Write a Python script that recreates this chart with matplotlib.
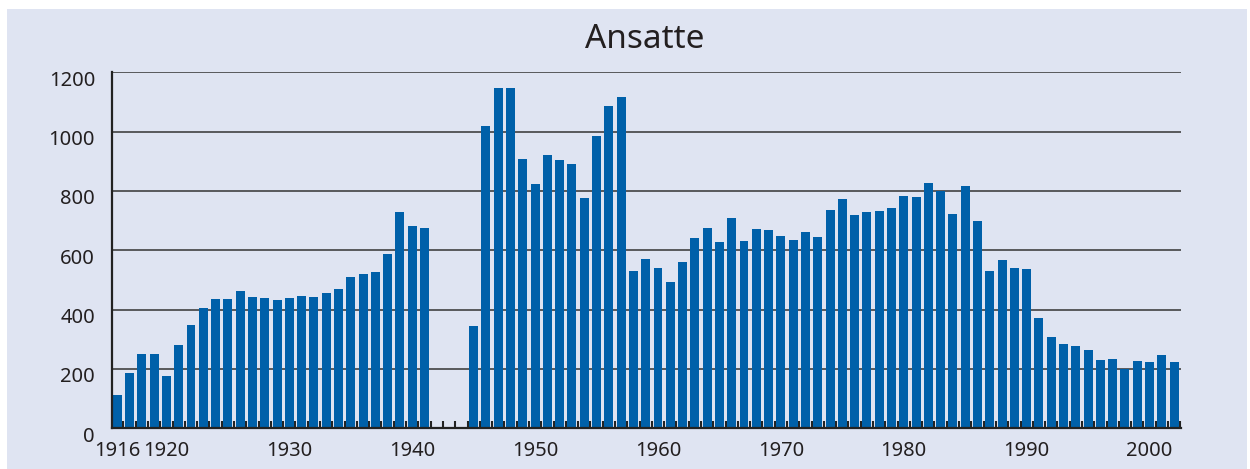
import matplotlib.pyplot as plt
import matplotlib.transforms as mtransforms
from matplotlib.patches import Rectangle
from matplotlib.ticker import FixedLocator

# data (no values 1942-1944)
years1 = list(range(1916, 1942))
vals1 = [112, 186, 250, 250, 176, 281, 348, 405, 435, 435,
         462, 442, 439, 432, 439, 446, 442, 456, 469, 510,
         520, 527, 587, 729, 682, 675]
years2 = list(range(1945, 2003))
vals2 = [345, 1019, 1147, 1147, 908, 824, 921, 904, 891, 776,
         985, 1087, 1117, 530, 571, 540, 493, 561, 642, 675,
         628, 709, 631, 672, 669, 648, 635, 662, 645, 736,
         773, 719, 729, 733, 743, 783, 780, 827, 800, 722,
         817, 699, 530, 567, 540, 537, 372, 308, 284, 278,
         264, 230, 234, 200, 227, 224, 247, 224]
year_labels = [1916, 1920, 1930, 1940, 1950, 1960, 1970, 1980, 1990, 2000]
y_ticks = [0, 200, 400, 600, 800, 1000, 1200]

panel = '#dfe4f2'
bar_col = '#0060a9'
txt = '#231f20'

plt.rcParams['font.family'] = ['Noto Sans', 'DejaVu Sans']

fig = plt.figure(figsize=(12.5, 4.69), dpi=100)
fig.patch.set_facecolor('white')
fig.patches.append(Rectangle((7 / 1250, 0), 1240 / 1250, 460 / 469,
                             transform=fig.transFigure, facecolor=panel,
                             edgecolor='none', zorder=-10))

ax = fig.add_axes([0.0894, 0.0868, 0.8554, 0.7591])
ax.set_facecolor('none')

ax.bar(years1 + years2, vals1 + vals2, width=0.73, color=bar_col, zorder=3)

ax.set_xlim(1915.55, 2002.56)
ax.set_ylim(0, 1200)

for v in y_ticks[1:]:
    ax.axhline(v, color='#333333', lw=1.1, zorder=1)

for s in ['top', 'right']:
    ax.spines[s].set_visible(False)
for s in ['left', 'bottom']:
    ax.spines[s].set_color('#222222')
    ax.spines[s].set_linewidth(1.6)
    ax.spines[s].set_zorder(4)

ax.set_yticks(y_ticks)
ax.set_yticklabels([str(v) for v in y_ticks])
ax.tick_params(axis='y', length=0, pad=12, labelsize=14.5, labelcolor=txt)
offset = mtransforms.ScaledTranslation(0, -6 / 100, fig.dpi_scale_trans)
for lab in ax.get_yticklabels():
    lab.set_transform(lab.get_transform() + offset)

ax.set_xticks(year_labels)
ax.set_xticklabels([str(y) for y in year_labels])
ax.tick_params(axis='x', which='major', length=0, pad=9, labelsize=14.5,
               labelcolor=txt)
ax.xaxis.set_minor_locator(FixedLocator([y + 0.5 for y in range(1915, 2003)]))
ax.tick_params(axis='x', which='minor', direction='in', length=5,
               width=1.5, color='#222222')

fig.text(0.516, 0.915, 'Ansatte', ha='center', va='center',
         fontsize=24, color=txt)

fig.savefig('out.png', dpi=100)
